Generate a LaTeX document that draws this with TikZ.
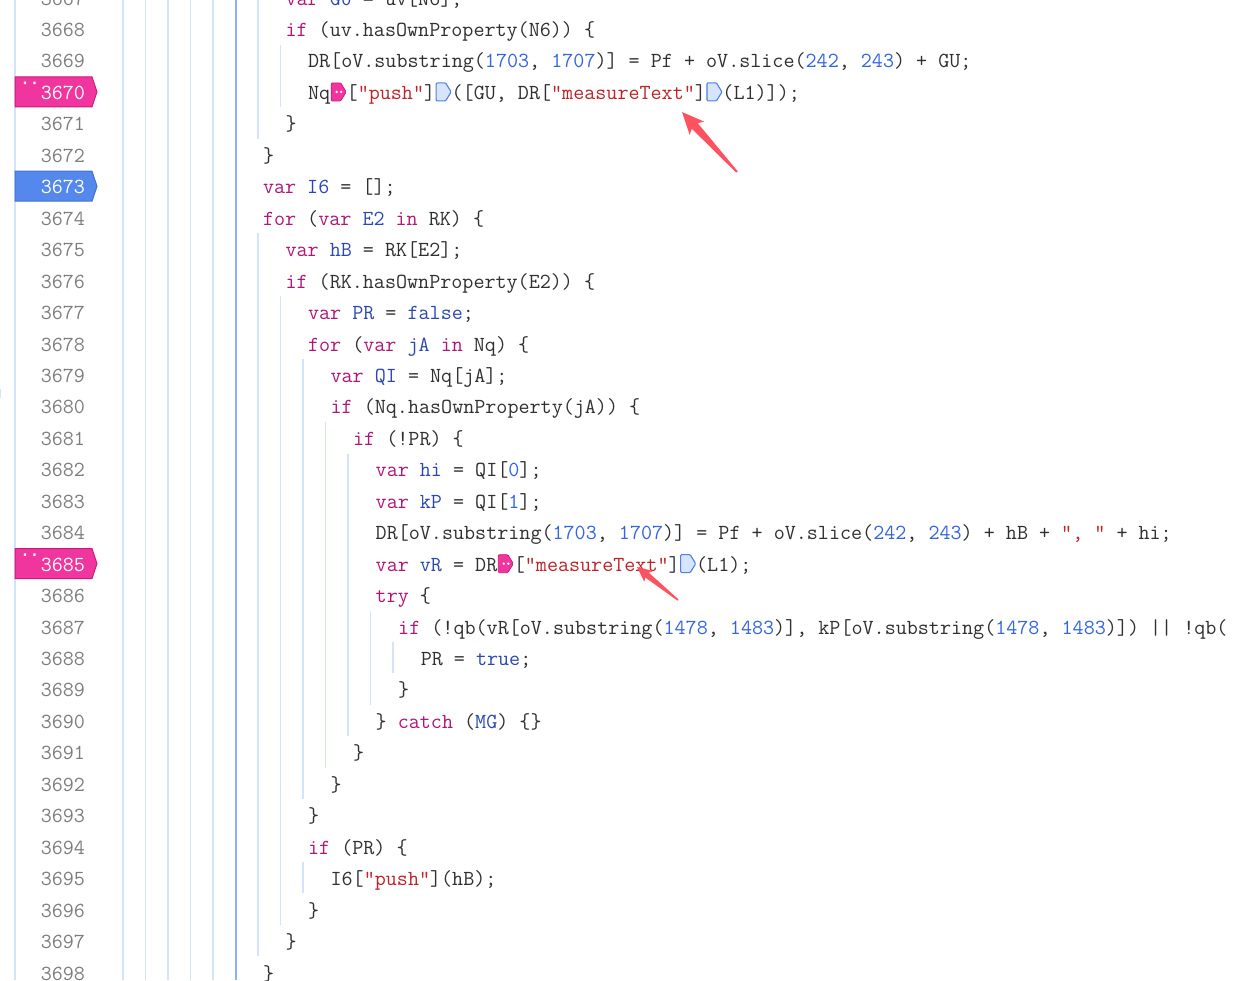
\documentclass[tikz,border=0pt]{standalone}
\usetikzlibrary{calc}

\definecolor{codetext}{RGB}{48,48,48}
\definecolor{kwcol}{RGB}{176,22,120}
\definecolor{defcol}{RGB}{42,72,176}
\definecolor{numcol}{RGB}{52,100,222}
\definecolor{strcol}{RGB}{190,35,40}
\definecolor{linenocol}{RGB}{125,125,125}
\definecolor{guidecol}{RGB}{212,226,250}
\definecolor{activecol}{RGB}{140,176,245}
\definecolor{bppink}{RGB}{240,54,158}
\definecolor{bppinkdark}{RGB}{205,25,125}
\definecolor{bpblue}{RGB}{84,136,236}
\definecolor{inactfill}{RGB}{214,228,252}
\definecolor{inactdraw}{RGB}{78,128,230}
\definecolor{snipred}{RGB}{255,82,96}

\newcommand\codefont{\fontsize{21.47}{24}\selectfont\ttfamily}
\newcommand\kw[1]{\textcolor{kwcol}{#1}}
\newcommand\df[1]{\textcolor{defcol}{#1}}
\newcommand\nm[1]{\textcolor{numcol}{#1}}
\newcommand\st[1]{\textcolor{strcol}{#1}}

\begin{document}
\begin{tikzpicture}[x=1pt,y=-1pt,
    code/.style={anchor=base west,inner sep=0pt,outer sep=0pt,font=\codefont,text=codetext},
    lineno/.style={anchor=base east,inner sep=0pt,outer sep=0pt,font=\codefont,text=linenocol},
    guide/.style={draw=guidecol,line width=1.5pt},
    active guide/.style={draw=activecol,line width=2pt},
    gutter pink/.style={fill=bppink,draw=bppinkdark,line width=1pt},
    gutter blue/.style={fill=bpblue,draw=bpblue!85!black,line width=1pt},
    hit bp/.style={fill=bppink,draw=bppinkdark,line width=0.8pt,rounded corners=1pt},
    idle bp/.style={fill=inactfill,draw=inactdraw,line width=1.1pt,rounded corners=1pt},
    snip/.style={fill=snipred}]
    \useasboundingbox (0,0) rectangle (1242,980);
    \clip (0,0) rectangle (1242,980);
    \fill[white] (0,0) rectangle (1242,980);

    % gutter and indent guides
    \draw[guide] (15,0) -- (15,980);
    \draw[guide] (0,389) -- (0,398);
    \foreach \c in {-12,-10,-8,-6,-4}
        \draw[guide] ({258+\c*11.27},0) -- ({258+\c*11.27},980);
    \draw[active guide] (235.5,0) -- (235.5,980);
    \foreach \c/\from/\to in {0/3667/3671, 0/3675/3697, 2/3669/3670, 2/3677/3696,
            4/3679/3692, 4/3695/3695, 6/3681/3691, 8/3682/3690, 10/3687/3689, 12/3688/3688}
        \draw[guide] ({258+\c*11.27},{-18.15+(\from-3667)*31.45}) -- ({258+\c*11.27},{12.8+(\to-3667)*31.45});

    % breakpoints in the gutter
    \draw[gutter pink] (15,76.9) -- (92,76.9) -- (97,91.9) -- (92,106.9) -- (15,106.9) -- cycle;
    \draw[gutter blue] (15,171.2) -- (92,171.2) -- (97,186.2) -- (92,201.2) -- (15,201.2) -- cycle;
    \draw[gutter pink] (15,548.6) -- (92,548.6) -- (97,563.6) -- (92,578.6) -- (15,578.6) -- cycle;
    \fill[white] (23.8,81.7) rectangle +(2.4,2.4) (33.3,81.7) rectangle +(2.4,2.4);
    \fill[white] (23.8,553.4) rectangle +(2.4,2.4) (33.3,553.4) rectangle +(2.4,2.4);

    \foreach \n in {3667,...,3698}
        \node[lineno] (n\n) at (85,{5.05+(\n-3667)*31.45})
            {\ifnum\n=3670 \color{white}\fi\ifnum\n=3673 \color{white}\fi\ifnum\n=3685 \color{white}\fi\n};

    % code
    \node[code] (l67) at (285.54,5.05) {\kw{var} \df{GU} = uv[N6];};
    \node[code] (l68) at (285.54,36.5) {\kw{if} (uv.hasOwnProperty(N6)) \{};
    \node[code] (l69) at (308.08,67.95) {DR[oV.substring(\nm{1703}, \nm{1707})] = Pf + oV.slice(\nm{242}, \nm{243}) + GU;};
    \node[code] (l70a) at (308.08,99.4) {Nq};
    \node[code] (l70b) at ([xshift=16.5pt]l70a.base east) {[\st{"push"}]};
    \node[code] (l70c) at ([xshift=16.5pt]l70b.base east) {([GU, DR[\st{"measureText"}]};
    \node[code] (l70d) at ([xshift=16.5pt]l70c.base east) {(L1)]);};
    \node[code] (l71) at (285.54,130.85) {\}};
    \node[code] (l72) at (263,162.3) {\}};
    \node[code] (l73) at (263,193.75) {\kw{var} \df{I6} = [];};
    \node[code] (l74) at (263,225.2) {\kw{for} (\kw{var} \df{E2} \kw{in} RK) \{};
    \node[code] (l75) at (285.54,256.65) {\kw{var} \df{hB} = RK[E2];};
    \node[code] (l76) at (285.54,288.1) {\kw{if} (RK.hasOwnProperty(E2)) \{};
    \node[code] (l77) at (308.08,319.55) {\kw{var} \df{PR} = \df{false};};
    \node[code] (l78) at (308.08,351) {\kw{for} (\kw{var} \df{jA} \kw{in} Nq) \{};
    \node[code] (l79) at (330.62,382.45) {\kw{var} \df{QI} = Nq[jA];};
    \node[code] (l80) at (330.62,413.9) {\kw{if} (Nq.hasOwnProperty(jA)) \{};
    \node[code] (l81) at (353.16,445.35) {\kw{if} (!PR) \{};
    \node[code] (l82) at (375.7,476.8) {\kw{var} \df{hi} = QI[\nm{0}];};
    \node[code] (l83) at (375.7,508.25) {\kw{var} \df{kP} = QI[\nm{1}];};
    \node[code] (l84) at (375.7,539.7) {DR[oV.substring(\nm{1703}, \nm{1707})] = Pf + oV.slice(\nm{242}, \nm{243}) + hB + \st{", "} + hi;};
    \node[code] (l85a) at (375.7,571.15) {\kw{var} \df{vR} = DR};
    \node[code] (l85b) at ([xshift=16.5pt]l85a.base east) {[\st{"measureText"}]};
    \node[code] (l85c) at ([xshift=16.5pt]l85b.base east) {(L1);};
    \node[code] (l86) at (375.7,602.6) {\kw{try} \{};
    \node[code] (l87) at (398.24,634.05) {\kw{if} (!qb(vR[oV.substring(\nm{1478}, \nm{1483})], kP[oV.substring(\nm{1478}, \nm{1483})]) || !qb(};
    \node[code] (l88) at (420.78,665.5) {PR = \df{true};};
    \node[code] (l89) at (398.24,696.95) {\}};
    \node[code] (l90) at (375.7,728.4) {\} \kw{catch} (\df{MG}) \{\}};
    \node[code] (l91) at (353.16,759.85) {\}};
    \node[code] (l92) at (330.62,791.3) {\}};
    \node[code] (l93) at (308.08,822.75) {\}};
    \node[code] (l94) at (308.08,854.2) {\kw{if} (PR) \{};
    \node[code] (l95) at (330.62,885.65) {I6[\st{"push"}](hB);};
    \node[code] (l96) at (308.08,917.1) {\}};
    \node[code] (l97) at (285.54,948.55) {\}};
    \node[code] (l98) at (263,980) {\}};

    % inline breakpoints
    \coordinate (bp70a) at ([xshift=1pt,yshift=7.5pt]l70a.base east);
    \coordinate (bp70b) at ([xshift=1pt,yshift=7.5pt]l70b.base east);
    \coordinate (bp70c) at ([xshift=1pt,yshift=7.5pt]l70c.base east);
    \coordinate (bp85a) at ([xshift=1pt,yshift=7.5pt]l85a.base east);
    \coordinate (bp85b) at ([xshift=1pt,yshift=7.5pt]l85b.base east);
    \draw[hit bp] (bp70a) ++(0,-9) -- ++(9.5,0) -- ++(5.5,9) -- ++(-5.5,9) -- ++(-9.5,0) -- cycle;
    \draw[hit bp] (bp85a) ++(0,-9) -- ++(9.5,0) -- ++(5.5,9) -- ++(-5.5,9) -- ++(-9.5,0) -- cycle;
    \draw[idle bp] (bp70b) ++(0,-9) -- ++(9.5,0) -- ++(5.5,9) -- ++(-5.5,9) -- ++(-9.5,0) -- cycle;
    \draw[idle bp] (bp70c) ++(0,-9) -- ++(9.5,0) -- ++(5.5,9) -- ++(-5.5,9) -- ++(-9.5,0) -- cycle;
    \draw[idle bp] (bp85b) ++(0,-9) -- ++(9.5,0) -- ++(5.5,9) -- ++(-5.5,9) -- ++(-9.5,0) -- cycle;
    \fill[white] ([xshift=5.5pt]bp70a) circle (1.3pt) ([xshift=10pt]bp70a) circle (1.3pt);
    \fill[white] ([xshift=5.5pt]bp85a) circle (1.3pt) ([xshift=10pt]bp85a) circle (1.3pt);

    % red arrows
    \coordinate (a1tip) at (682,112);
    \coordinate (a1tail) at (737,172);
    \coordinate (a2tip) at (637,567);
    \coordinate (a2tail) at (678,600);
    \fill[snip] (a1tip) -- ($(a1tip)!24pt!24:(a1tail)$) -- ($(a1tip)!19.4pt!12:(a1tail)$)
        -- ($(a1tail)!1pt!-90:(a1tip)$) -- ($(a1tail)!1pt!90:(a1tip)$)
        -- ($(a1tip)!19.4pt!-12:(a1tail)$) -- ($(a1tip)!24pt!-24:(a1tail)$) -- cycle;
    \fill[snip] (a2tip) -- ($(a2tip)!16.6pt!25:(a2tail)$) -- ($(a2tip)!13.3pt!13:(a2tail)$)
        -- ($(a2tail)!0.8pt!-90:(a2tip)$) -- ($(a2tail)!0.8pt!90:(a2tip)$)
        -- ($(a2tip)!13.3pt!-13:(a2tail)$) -- ($(a2tip)!16.6pt!-25:(a2tail)$) -- cycle;
\end{tikzpicture}
\end{document}
